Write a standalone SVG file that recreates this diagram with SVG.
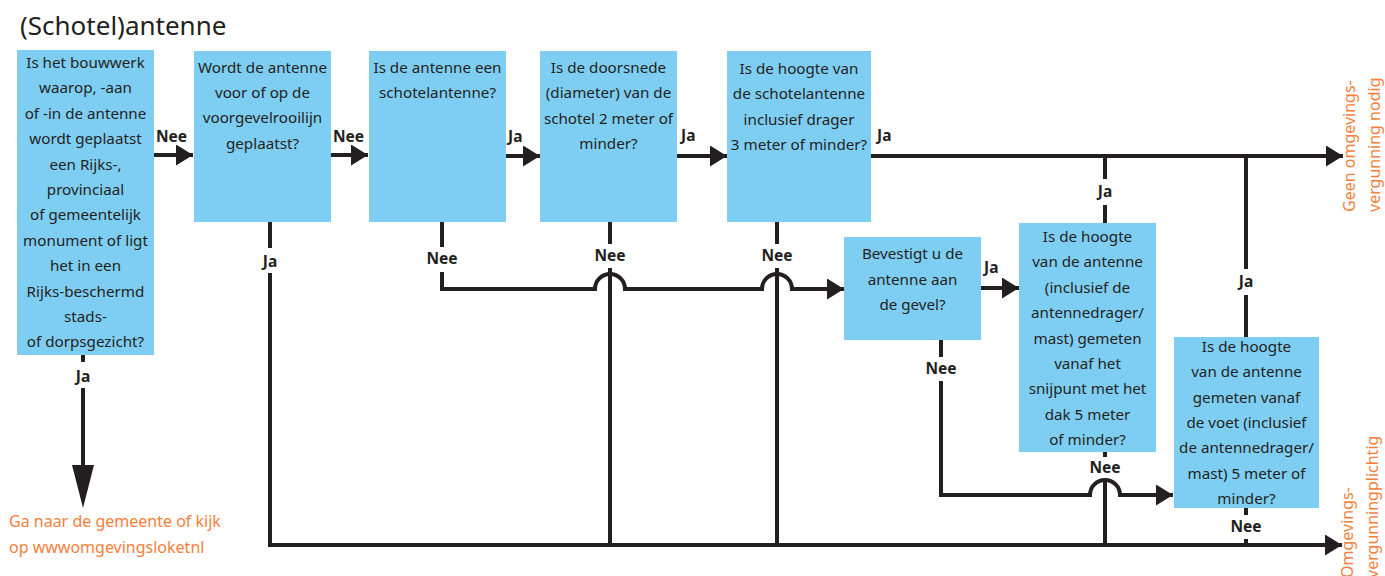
<svg xmlns="http://www.w3.org/2000/svg" width="1385" height="576" viewBox="0 0 1385 576">
<style>
.box{fill:#7ecef3}
.t{font-family:"Noto Sans","Open Sans",sans-serif;font-size:15.2px;fill:#231f20;text-anchor:middle}
.lbl{font-family:"Noto Sans","Open Sans",sans-serif;font-size:15.5px;font-weight:bold;fill:#231f20}
.c{text-anchor:middle}
.or{font-family:"Noto Sans","Open Sans",sans-serif;font-size:16px;fill:#f47f3b}
.ln{fill:none;stroke:#231f20;stroke-width:4}
.title{font-family:"Noto Sans","Open Sans",sans-serif;font-size:26px;fill:#231f20}
</style>
<defs>
<marker id="ah" markerUnits="userSpaceOnUse" markerWidth="18" markerHeight="22" refX="17" refY="10.5" orient="auto">
<path d="M0,0 L17,10.5 L0,21 Z" fill="#231f20"/>
</marker>
</defs>
<text class="title" x="20" y="35">(Schotel)antenne</text>

<g id="connectors">
<path class="ln" d="M154,155 H193" marker-end="url(#ah)"/>
<path class="ln" d="M331,155 H368" marker-end="url(#ah)"/>
<path class="ln" d="M506,156 H540" marker-end="url(#ah)"/>
<path class="ln" d="M677,156 H727" marker-end="url(#ah)"/>
<path class="ln" d="M871,156 H1343" marker-end="url(#ah)"/>
<path class="ln" d="M83,355 V362 M83,388 V468"/>
<polygon points="72,465 94,465 83,508" fill="#231f20"/>
<path class="ln" d="M270,222 V248 M270,273 V545 H1342" marker-end="url(#ah)"/>
<path class="ln" d="M442,222 V247 M442,272 V289 H595 A15,15 0 0 1 625,289 H762 A15,15 0 0 1 792,289 H844" marker-end="url(#ah)"/>
<path class="ln" d="M610,222 V244 M610,268 V545"/>
<path class="ln" d="M777,222 V244 M777,268 V545"/>
<path class="ln" d="M981,288 H1019" marker-end="url(#ah)"/>
<path class="ln" d="M941,340 V357 M941,381 V495 H1090 A15,15 0 0 1 1120,495 H1173" marker-end="url(#ah)"/>
<path class="ln" d="M1105,156 V179 M1105,205 V223"/>
<path class="ln" d="M1105,452 V457 M1105,481 V545"/>
<path class="ln" d="M1246,156 V269 M1246,295 V337"/>
<path class="ln" d="M1246,508 V515 M1246,539 V545"/>
<text class="lbl" x="156" y="142">Nee</text>
<text class="lbl" x="333" y="142">Nee</text>
<text class="lbl" x="508" y="142">Ja</text>
<text class="lbl" x="681" y="141">Ja</text>
<text class="lbl" x="877" y="141">Ja</text>
<text class="lbl" x="984" y="273">Ja</text>
<text class="lbl c" x="83" y="382">Ja</text>
<text class="lbl c" x="270" y="267">Ja</text>
<text class="lbl c" x="442" y="264">Nee</text>
<text class="lbl c" x="610" y="261">Nee</text>
<text class="lbl c" x="777" y="261">Nee</text>
<text class="lbl c" x="941" y="374">Nee</text>
<text class="lbl c" x="1105" y="197">Ja</text>
<text class="lbl c" x="1105" y="473">Nee</text>
<text class="lbl c" x="1246" y="287">Ja</text>
<text class="lbl c" x="1246" y="532">Nee</text>
</g>

<g id="n1">
<rect class="box" x="17" y="50" width="137" height="305"/>
<text class="t" x="85.5" y="68"><tspan x="85.5">Is het bouwwerk</tspan><tspan x="85.5" dy="25.4">waarop, -aan</tspan><tspan x="85.5" dy="25.4">of -in de antenne</tspan><tspan x="85.5" dy="25.4">wordt geplaatst</tspan><tspan x="85.5" dy="25.4">een Rijks-,</tspan><tspan x="85.5" dy="25.4">provinciaal</tspan><tspan x="85.5" dy="25.4">of gemeentelijk</tspan><tspan x="85.5" dy="25.4">monument of ligt</tspan><tspan x="85.5" dy="25.4">het in een</tspan><tspan x="85.5" dy="25.4">Rijks-beschermd</tspan><tspan x="85.5" dy="25.4">stads-</tspan><tspan x="85.5" dy="25.4">of dorpsgezicht?</tspan></text>
</g>
<g id="n2">
<rect class="box" x="194" y="51" width="137" height="171"/>
<text class="t" x="262.5" y="73"><tspan x="262.5">Wordt de antenne</tspan><tspan x="262.5" dy="25.2">voor of op de</tspan><tspan x="262.5" dy="25.2">voorgevelrooilijn</tspan><tspan x="262.5" dy="25.2">geplaatst?</tspan></text>
</g>
<g id="n3">
<rect class="box" x="369" y="51" width="137" height="171"/>
<text class="t" x="437.5" y="73"><tspan x="437.5">Is de antenne een</tspan><tspan x="437.5" dy="25.2">schotelantenne?</tspan></text>
</g>
<g id="n4">
<rect class="box" x="540" y="51" width="137" height="171"/>
<text class="t" x="608.5" y="73"><tspan x="608.5">Is de doorsnede</tspan><tspan x="608.5" dy="25.3">(diameter) van de</tspan><tspan x="608.5" dy="25.3">schotel 2 meter of</tspan><tspan x="608.5" dy="25.3">minder?</tspan></text>
</g>
<g id="n5">
<rect class="box" x="727" y="51" width="144" height="171"/>
<text class="t" x="799" y="74"><tspan x="799">Is de hoogte van</tspan><tspan x="799" dy="25.3">de schotelantenne</tspan><tspan x="799" dy="25.3">inclusief drager</tspan><tspan x="799" dy="25.3">3 meter of minder?</tspan></text>
</g>
<g id="n6">
<rect class="box" x="844" y="237" width="137" height="103"/>
<text class="t" x="912.5" y="259"><tspan x="912.5">Bevestigt u de</tspan><tspan x="912.5" dy="25.5">antenne aan</tspan><tspan x="912.5" dy="25.5">de gevel?</tspan></text>
</g>
<g id="n7">
<rect class="box" x="1019" y="223" width="137" height="229"/>
<text class="t" x="1087.5" y="242"><tspan x="1087.5">Is de hoogte</tspan><tspan x="1087.5" dy="25.4">van de antenne</tspan><tspan x="1087.5" dy="25.4">(inclusief de</tspan><tspan x="1087.5" dy="25.4">antennedrager/</tspan><tspan x="1087.5" dy="25.4">mast) gemeten</tspan><tspan x="1087.5" dy="25.4">vanaf het</tspan><tspan x="1087.5" dy="25.4">snijpunt met het</tspan><tspan x="1087.5" dy="25.4">dak 5 meter</tspan><tspan x="1087.5" dy="25.4">of minder?</tspan></text>
</g>
<g id="n8">
<rect class="box" x="1174" y="337" width="145" height="171"/>
<text class="t" x="1246.5" y="352"><tspan x="1246.5">Is de hoogte</tspan><tspan x="1246.5" dy="25.3">van de antenne</tspan><tspan x="1246.5" dy="25.3">gemeten vanaf</tspan><tspan x="1246.5" dy="25.3">de voet (inclusief</tspan><tspan x="1246.5" dy="25.3">de antennedrager/</tspan><tspan x="1246.5" dy="25.3">mast) 5 meter of</tspan><tspan x="1246.5" dy="25.3">minder?</tspan></text>
</g>
<g id="out-gemeente">
<text class="or" x="9" y="527"><tspan x="9">Ga naar de gemeente of kijk</tspan><tspan x="9" dy="26">op wwwomgevingsloketnl</tspan></text>
</g>
<g id="out-geen">
<text class="or" transform="translate(1355,212) rotate(-90)">Geen omgevings-</text>
<text class="or" transform="translate(1380,212) rotate(-90)">vergunning nodig</text>
</g>
<g id="out-plichtig">
<text class="or" transform="translate(1353,578) rotate(-90)">Omgevings-</text>
<text class="or" transform="translate(1378,578) rotate(-90)">vergunningplichtig</text>
</g>
</svg>
